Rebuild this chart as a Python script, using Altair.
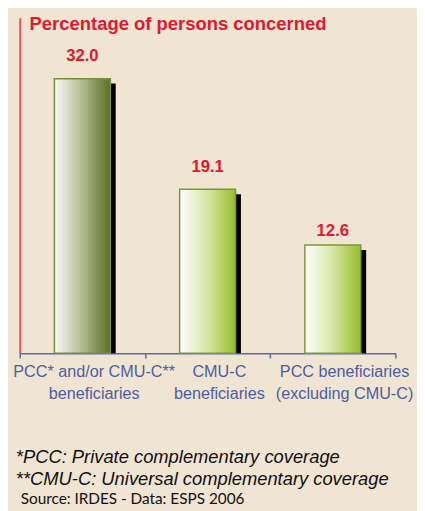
import altair as alt
import pandas as pd

categories = ["PCC* and/or CMU-C**\nbeneficiaries", "CMU-C\nbeneficiaries", "PCC beneficiaries\n(excluding CMU-C)"]
values = [32.0, 19.1, 12.6]
value_labels = ["32.0", "19.1", "12.6"]
groups = ["dark", "light", "light"]
title_text = "Percentage of persons concerned"
footnote_1 = "*PCC:  Private complementary coverage"
footnote_2 = "**CMU-C: Universal complementary coverage"
source_text = "Source: IRDES - Data: ESPS 2006"

BG = "#f0e4d2"
RED = "#e3172d"
BLUE = "#4d5f9f"

df = pd.DataFrame({"cat": categories, "value": values, "label": value_labels, "group": groups})

x_enc = alt.X(
    "cat:N",
    sort=categories,
    scale=alt.Scale(paddingInner=0, paddingOuter=0),
    axis=alt.Axis(
        title=None,
        labels=False,
        domainColor="#5b6ba6",
        domainWidth=1.5,
        tickColor="#5b6ba6",
        tickWidth=1.5,
        tickSize=5,
        tickBand="extent",
        grid=False,
    ),
)
y_enc = alt.Y(
    "value:Q",
    scale=alt.Scale(domain=[0, 39.1], nice=False, zero=True),
    axis=alt.Axis(
        title=None, labels=False, ticks=False, grid=False,
        domainColor="#ec4d5a", domainWidth=2,
    ),
)

base = alt.Chart(df).encode(x=x_enc, y=y_enc)

shadow = base.mark_bar(color="black", size=58, xOffset=5, yOffset=5, clip=True)

dark_grad = alt.Gradient(
    gradient="linear", x1=0, x2=1, y1=0, y2=0,
    stops=[alt.GradientStop(color="#fbfbf4", offset=0),
           alt.GradientStop(color="#b9bf98", offset=0.45),
           alt.GradientStop(color="#5a7224", offset=1)],
)
light_grad = alt.Gradient(
    gradient="linear", x1=0, x2=1, y1=0, y2=0,
    stops=[alt.GradientStop(color="#ffffff", offset=0),
           alt.GradientStop(color="#d6e6a4", offset=0.5),
           alt.GradientStop(color="#98bc2c", offset=1)],
)

bar_dark = base.transform_filter(alt.datum.group == "dark").mark_bar(
    color=dark_grad, size=57, stroke="#7a8c3e", strokeWidth=1.5)
bar_light = base.transform_filter(alt.datum.group == "light").mark_bar(
    color=light_grad, size=57, stroke="#7a9a30", strokeWidth=1.5)

val_style = dict(font="Liberation Sans", fontSize=17, fontWeight="bold", color=RED, baseline="alphabetic")
vals_a = base.transform_filter(alt.datum.value > 15).mark_text(dy=-18, **val_style).encode(text="label:N")
vals_b = base.transform_filter(alt.datum.value <= 15).mark_text(dy=-9, **val_style).encode(text="label:N")

cat_labels = alt.Chart(df).mark_text(
    font="Liberation Sans", fontSize=16.5, color=BLUE, baseline="alphabetic",
    lineBreak="\n", lineHeight=23, dx=12,
).encode(x=alt.X("cat:N", sort=categories), y=alt.value(366), text="cat:N")


def note(text, x, y, **kw):
    return alt.Chart(pd.DataFrame({"t": [text]})).mark_text(
        align="left", baseline="alphabetic", **kw
    ).encode(x=alt.value(x), y=alt.value(y), text="t:N")


title = note(title_text, 10, 13, font="Liberation Sans", fontSize=18.8, fontWeight="bold", color=RED)
foot1 = note(footnote_1, -4, 454, font="Liberation Sans", fontSize=18.7, fontStyle="italic", color="#111111")
foot2 = note(footnote_2, -4, 476, font="Liberation Sans", fontSize=18.7, fontStyle="italic", color="#111111")
src = note(source_text, 1, 496, font="Lato", fontSize=15.6, color="#111111")

chart = alt.layer(shadow, bar_dark, bar_light, vals_a, vals_b, cat_labels, title, foot1, foot2, src).properties(
    width=383, height=342,
    autosize=alt.AutoSizeParams(type="none"),
    padding={"left": 12, "top": 5, "right": 22, "bottom": 156},
    background=BG,
).configure_view(stroke=None)

chart.save("out.html", embed_options={"renderer": "svg", "actions": False})
